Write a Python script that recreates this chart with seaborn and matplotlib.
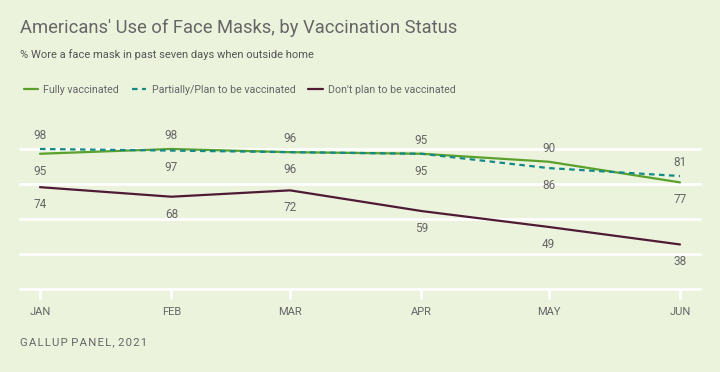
import pandas as pd
import numpy as np
import matplotlib
matplotlib.use('Agg')
import matplotlib.pyplot as plt
import matplotlib.dates as mdates
import seaborn as sns

# Data
months = ['2021-01-01', '2021-02-01', '2021-03-01', '2021-04-01', '2021-05-01', '2021-06-01']
month_labels = ['JAN', 'FEB', 'MAR', 'APR', 'MAY', 'JUN']
fully = [95, 98, 96, 95, 90, 77]
partially = [98, 97, 96, 95, 86, 81]
no_plan = [74, 68, 72, 59, 49, 38]
series_names = ['Fully vaccinated', 'Partially/Plan to be vaccinated', "Don't plan to be vaccinated"]
grid_values = [10, 32, 54, 76, 98]

bg = '#ebf3dd'
grey = '#666666'
colors = {series_names[0]: '#5aa02c', series_names[1]: '#138a87', series_names[2]: '#4f1a35'}

dates = pd.to_datetime(months)
df = pd.DataFrame({
    'date': np.tile(dates, 3),
    'value': fully + partially + no_plan,
    'group': np.repeat(series_names, len(months)),
})

sns.set_style('white')
plt.rcParams['font.family'] = ['Roboto', 'DejaVu Sans']

fig = plt.figure(figsize=(7.2, 3.72), dpi=100, facecolor=bg)
ax = fig.add_axes([20 / 720, 1 - 289 / 372, 680 / 720, (289 - 145.8) / 372])
ax.set_facecolor(bg)

# white grid lines
for g in grid_values:
    ax.axhline(g, color='white', lw=2, zorder=0, clip_on=False)

sns.lineplot(data=df, x='date', y='value', hue='group', style='group',
             hue_order=series_names, style_order=series_names,
             palette=colors, dashes={series_names[0]: '', series_names[1]: (2.5, 2), series_names[2]: ''},
             linewidth=1.6, ax=ax, legend=False)
for ln in ax.lines:
    ln.set_clip_on(False)

# value labels
def lab(x, y, up):
    ax.annotate(str(y), (x, y), xytext=(0, 9.5 if up else -12.5), textcoords='offset points',
                ha='center', va='center', fontsize=8.5, color=grey)

for i, d in enumerate(dates):
    if partially[i] >= fully[i]:
        lab(d, partially[i], True)
        lab(d, fully[i], False)
    else:
        lab(d, fully[i], True)
        lab(d, partially[i], False)
    lab(d, no_plan[i], False)

pad = 20 / (640 / (dates[-1] - dates[0]).days)
ax.set_xlim(mdates.date2num(dates[0]) - pad, mdates.date2num(dates[-1]) + pad)
ax.set_ylim(10, 100)
ax.set_xticks(dates)
ax.set_xticklabels(month_labels)
ax.set_yticks([])
ax.tick_params(axis='x', bottom=True, length=7, width=2, color='white', pad=6, labelsize=8, labelcolor=grey)
sns.despine(ax=ax, left=True, bottom=True)
ax.set_xlabel('')
ax.set_ylabel('')

# legend
handles = [plt.Line2D([], [], color=colors[n], lw=1.6, ls=(0, (2.5, 2)) if n == series_names[1] else '-')
           for n in series_names]
fig.legend(handles, series_names, loc='center left', bbox_to_anchor=(14 / 720, 1 - 90 / 372),
           ncol=3, frameon=False, fontsize=7.7, handlelength=1.35, handletextpad=0.5,
           columnspacing=1.2, labelcolor=grey)

fig.text(20 / 720, 1 - 28 / 372, "Americans' Use of Face Masks, by Vaccination Status",
         fontsize=13.2, color=grey, va='center', ha='left')
fig.text(20 / 720, 1 - 55 / 372, '% Wore a face mask in past seven days when outside home',
         fontsize=8, color='#555555', va='center', ha='left')
fig.text(20 / 720, 1 - 342 / 372, 'G A L L U P   P A N E L ,   2 0 2 1'.replace(' ', '\u200a'),
         fontsize=8.2, color=grey, va='center', ha='left')

fig.savefig('out.png', dpi=100, facecolor=bg)
